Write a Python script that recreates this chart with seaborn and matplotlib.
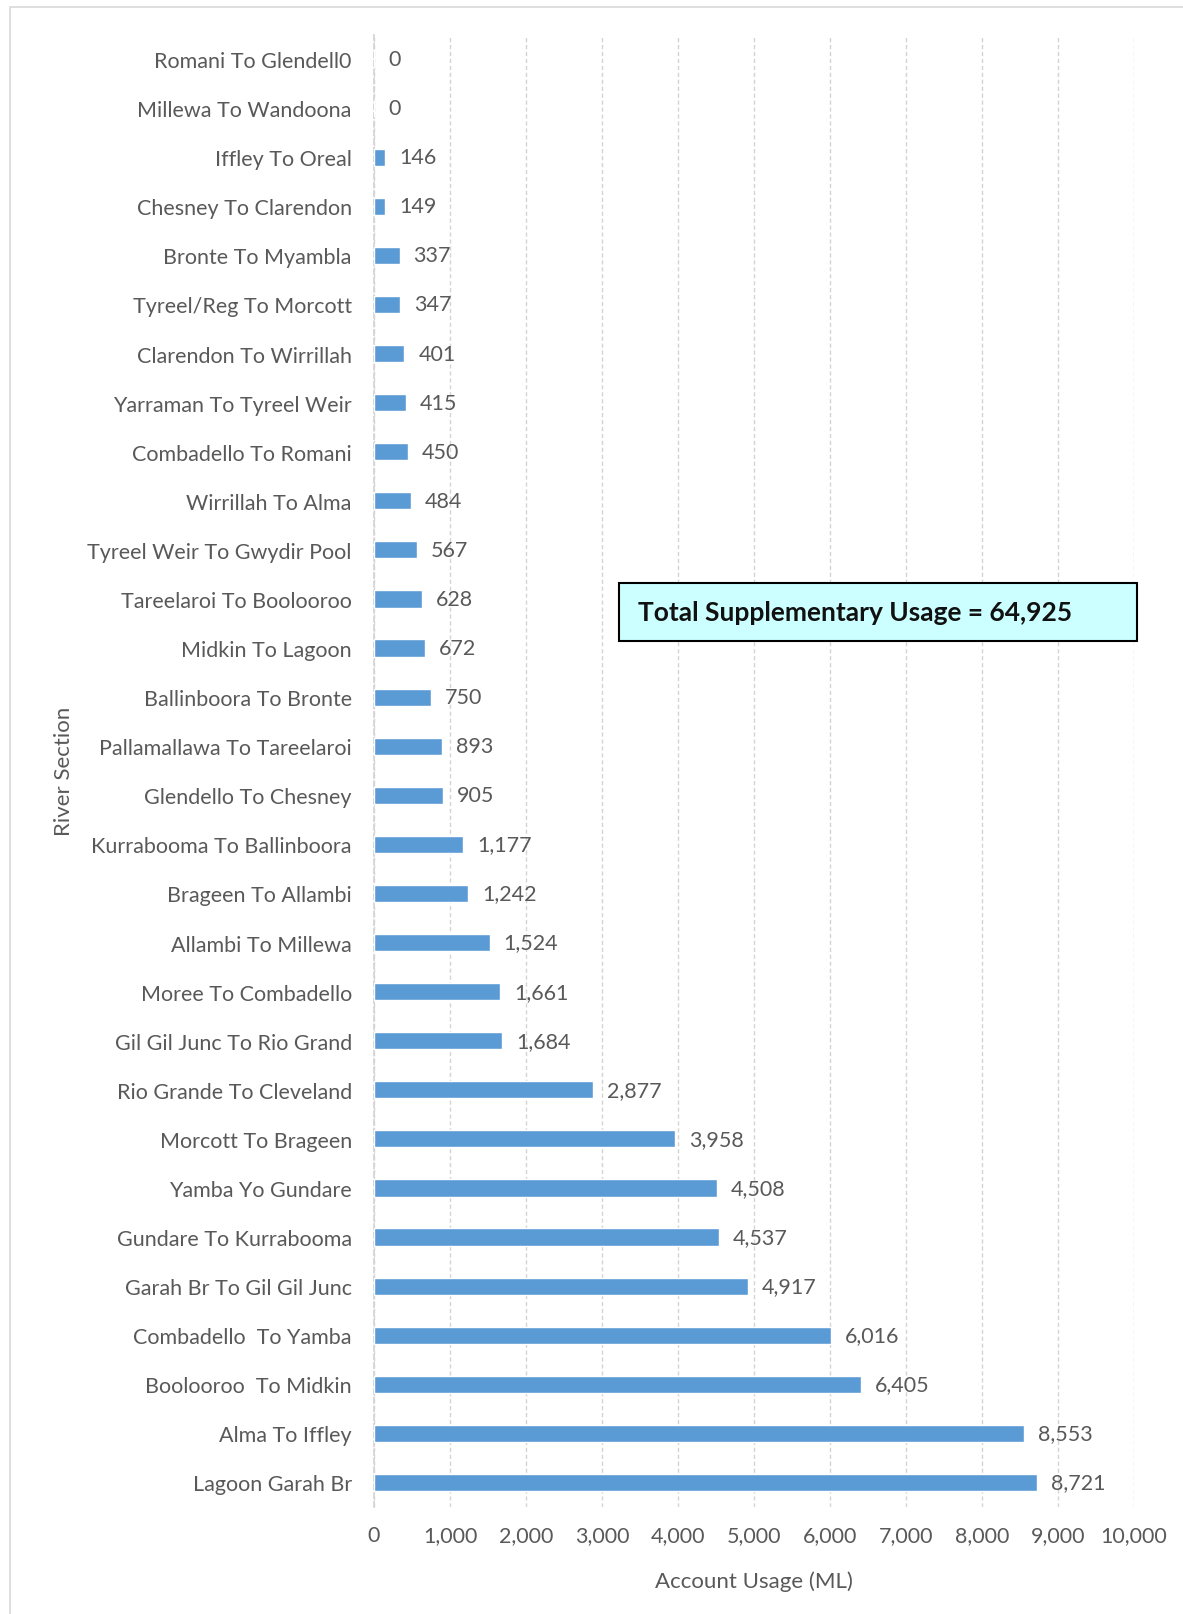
import matplotlib
matplotlib.use("Agg")
import matplotlib.pyplot as plt
from matplotlib.patches import Rectangle
from matplotlib.ticker import FuncFormatter
import seaborn as sns
import pandas as pd

sections = [
    "Romani To Glendell0", "Millewa To Wandoona", "Iffley To Oreal",
    "Chesney To Clarendon", "Bronte To Myambla", "Tyreel/Reg To Morcott",
    "Clarendon To Wirrillah", "Yarraman To Tyreel Weir", "Combadello To Romani",
    "Wirrillah To Alma", "Tyreel Weir To Gwydir Pool", "Tareelaroi To Boolooroo",
    "Midkin To Lagoon", "Ballinboora To Bronte", "Pallamallawa To Tareelaroi",
    "Glendello To Chesney", "Kurrabooma To Ballinboora", "Brageen To Allambi",
    "Allambi To Millewa", "Moree To Combadello", "Gil Gil Junc To Rio Grand",
    "Rio Grande To Cleveland", "Morcott To Brageen", "Yamba Yo Gundare",
    "Gundare To Kurrabooma", "Garah Br To Gil Gil Junc", "Combadello  To Yamba",
    "Boolooroo  To Midkin", "Alma To Iffley", "Lagoon Garah Br",
]
usage = [
    0, 0, 146, 149, 337, 347, 401, 415, 450, 484, 567, 628, 672, 750, 893,
    905, 1177, 1242, 1524, 1661, 1684, 2877, 3958, 4508, 4537, 4917, 6016,
    6405, 8553, 8721,
]
x_ticks = list(range(0, 10001, 1000))
total_text = "Total Supplementary Usage = 64,925"

df = pd.DataFrame({"section": sections, "usage": usage})

sns.set_theme(style="white")
plt.rcParams["font.family"] = ["Lato", "DejaVu Sans"]

W, H = 1183, 1615
fig = plt.figure(figsize=(W / 100, H / 100), dpi=100)
ax = fig.add_axes([374 / W, 1 - 1508 / H, (1134 - 374) / W, (1508 - 35.5) / H])

text_grey = "#595959"
sns.barplot(data=df, x="usage", y="section", orient="h", color="#5B9BD5",
            saturation=1, width=0.35, ax=ax, zorder=3)

for c in ax.containers:
    ax.bar_label(c, labels=[f"{v:,}" for v in usage], padding=10,
                 fontsize=15.5, color=text_grey)

ax.set_xlim(0, 10000)
ax.set_xticks(x_ticks)
ax.xaxis.set_major_formatter(FuncFormatter(lambda v, p: f"{int(v):,}"))
ax.grid(axis="x", color="#d4d4d4", linestyle=(0, (3, 2)), linewidth=1, zorder=0)
ax.grid(axis="y", visible=False)
for s in ["top", "right", "bottom"]:
    ax.spines[s].set_visible(False)
ax.spines["left"].set_color("#d4d4d4")
ax.spines["left"].set_linestyle((0, (3, 2)))

ax.tick_params(axis="y", length=0, pad=16, labelsize=15.5, labelcolor=text_grey)
ax.tick_params(axis="x", length=0, pad=13, labelsize=15.5, labelcolor=text_grey)
ax.set_xlabel("Account Usage (ML)", fontsize=16, color=text_grey, labelpad=18)
ax.set_ylabel("River Section", fontsize=16, color=text_grey)
ax.yaxis.set_label_coords(-(374 - 74) / (1134 - 374), 0.5)

# total usage callout
bx0, by0, bx1, by1 = 619, 584, 1137, 642
fig.patches.append(Rectangle((bx0 / W, 1 - by1 / H), (bx1 - bx0) / W, (by1 - by0) / H,
                             transform=fig.transFigure, facecolor="#CCFFFF",
                             edgecolor="black", linewidth=1.5, zorder=5))
fig.text(638 / W, 1 - 613 / H, total_text, fontsize=19, fontweight="bold",
         color="#111111", ha="left", va="center", zorder=6)

# outer frame
fig.patches.append(Rectangle((10 / W, -0.05), 1.1, 1 - 8 / H + 0.05,
                             transform=fig.transFigure, facecolor="none",
                             edgecolor="#d9d9d9", linewidth=1.2, zorder=0))

fig.savefig("out.png", dpi=100, facecolor="white")
